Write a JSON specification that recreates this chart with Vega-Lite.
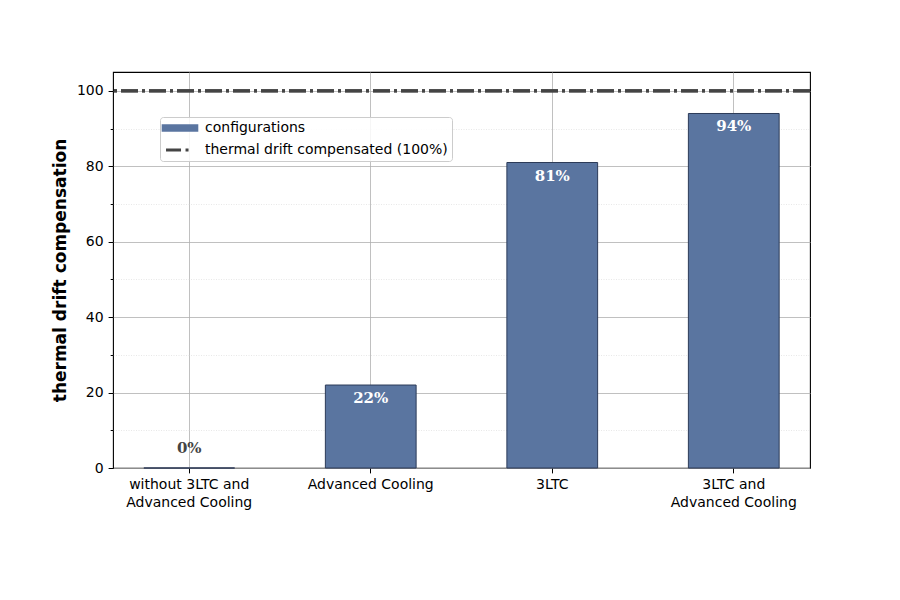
{
  "$schema": "https://vega.github.io/schema/vega-lite/v6.json",
  "width": 697,
  "height": 396,
  "autosize": "none",
  "padding": {"left": 113, "top": 72, "right": 90, "bottom": 132},
  "background": "white",
  "data": {
    "values": [
      {"config": "without 3LTC and Advanced Cooling", "value": 0, "label": "0%"},
      {"config": "Advanced Cooling", "value": 22, "label": "22%"},
      {"config": "3LTC", "value": 81, "label": "81%"},
      {"config": "3LTC and Advanced Cooling", "value": 94, "label": "94%"}
    ]
  },
  "layer": [
    {
      "mark": {"type": "bar", "stroke": "#2c3b58", "strokeWidth": 1, "opacity": 1},
      "encoding": {
        "x": {
          "field": "config",
          "type": "nominal",
          "sort": null,
          "scale": {"paddingInner": 0.5, "paddingOuter": 0.17},
          "axis": {
            "title": null,
            "labelAngle": 0,
            "grid": true,
            "bandPosition": 0.5,
            "gridColor": "#b0b0b0",
            "gridWidth": 0.8,
            "domain": false,
            "tickColor": "black",
            "tickSize": 4.9,
            "labelPadding": 4.9,
            "labelFontSize": 14,
            "labelColor": "black",
            "labelLineHeight": 18,
            "labelExpr": "datum.value == 'without 3LTC and Advanced Cooling' ? ['without 3LTC and', 'Advanced Cooling'] : datum.value == '3LTC and Advanced Cooling' ? ['3LTC and', 'Advanced Cooling'] : datum.value"
          }
        },
        "y": {
          "field": "value",
          "type": "quantitative",
          "scale": {"domain": [0, 105], "nice": false, "zero": true},
          "axis": {
            "title": "thermal drift compensation",
            "titleFontSize": 17,
            "titleFontWeight": "bold",
            "titleColor": "black",
            "titleX": -53,
            "titleY": 198,
            "titleAngle": 270,
            "titleAlign": "center",
            "titleBaseline": "middle",
            "values": [0, 20, 40, 60, 80, 100],
            "grid": true,
            "gridColor": "#b0b0b0",
            "gridWidth": 0.8,
            "domain": false,
            "tickColor": "black",
            "tickSize": 4.9,
            "labelPadding": 4.9,
            "labelFontSize": 14,
            "labelColor": "black"
          }
        },
        "color": {
          "datum": "configurations",
          "type": "nominal",
          "scale": {
            "domain": ["configurations", "thermal drift compensated (100%)"],
            "range": ["#5a75a0", "#444444"]
          },
          "legend": {
            "title": null,
            "orient": "none",
            "legendX": 47,
            "legendY": 45,
            "padding": 4,
            "fillColor": "rgba(255,255,255,0.85)",
            "strokeColor": "#cccccc",
            "cornerRadius": 3,
            "labelFontSize": 14,
            "labelColor": "black",
            "labelOffset": 27,
            "rowPadding": 8,
            "symbolSize": 196,
            "labelLimit": 400,
            "encode": {
              "symbols": {
                "update": {
                  "shape": {"signal": "datum.value === 'configurations' ? 'M-1.33,-0.52H3.9V0.52H-1.33Z' : 'M-0.71,0H2.71'"},
                  "fill": {"signal": "datum.value === 'configurations' ? '#5a75a0' : 'transparent'"},
                  "stroke": {"signal": "datum.value === 'configurations' ? 'transparent' : '#444444'"},
                  "strokeWidth": {"signal": "datum.value === 'configurations' ? 0 : 2.8"},
                  "strokeDash": {"signal": "datum.value === 'configurations' ? [1, 0] : [15, 4.5, 3, 4]"},
                  "size": {"value": 196},
                  "opacity": {"value": 1}
                }
              }
            }
          }
        }
      }
    },
    {
      "transform": [{"filter": "datum.value > 0"}],
      "mark": {"type": "text", "font": "DejaVu Serif", "fontWeight": "bold", "fontSize": 15, "fill": "white", "baseline": "middle", "dy": 13},
      "encoding": {
        "x": {"field": "config", "type": "nominal", "sort": null},
        "y": {"field": "value", "type": "quantitative", "axis": null},
        "text": {"field": "label"}
      }
    },
    {
      "transform": [{"filter": "datum.value == 0"}],
      "mark": {"type": "text", "font": "DejaVu Serif", "fontWeight": "bold", "fontSize": 15, "fill": "#444444", "baseline": "middle", "dy": -20},
      "encoding": {
        "x": {"field": "config", "type": "nominal", "sort": null},
        "y": {"field": "value", "type": "quantitative", "axis": null},
        "text": {"field": "label"}
      }
    },
    {
      "mark": {"type": "rule", "strokeWidth": 2.8, "strokeDash": [17, 4, 3, 4]},
      "encoding": {
        "y": {
          "datum": 100,
          "type": "quantitative",
          "axis": {
            "orient": "left",
            "title": null,
            "values": [10, 30, 50, 70, 90],
            "labels": false,
            "domain": false,
            "tickColor": "black",
            "tickSize": 2.8,
            "grid": true,
            "gridColor": "#d8d8d8",
            "gridWidth": 0.6,
            "gridDash": [1, 1.5]
          }
        },
        "color": {
          "datum": "thermal drift compensated (100%)",
          "type": "nominal",
          "legend": {
            "title": null,
            "orient": "none",
            "legendX": 47,
            "legendY": 45,
            "padding": 4,
            "fillColor": "rgba(255,255,255,0.85)",
            "strokeColor": "#cccccc",
            "cornerRadius": 3,
            "labelFontSize": 14,
            "labelColor": "black",
            "labelOffset": 27,
            "rowPadding": 8,
            "symbolSize": 196,
            "labelLimit": 400,
            "encode": {
              "symbols": {
                "update": {
                  "shape": {"signal": "datum.value === 'configurations' ? 'M-1.33,-0.52H3.9V0.52H-1.33Z' : 'M-0.71,0H2.71'"},
                  "fill": {"signal": "datum.value === 'configurations' ? '#5a75a0' : 'transparent'"},
                  "stroke": {"signal": "datum.value === 'configurations' ? 'transparent' : '#444444'"},
                  "strokeWidth": {"signal": "datum.value === 'configurations' ? 0 : 2.8"},
                  "strokeDash": {"signal": "datum.value === 'configurations' ? [1, 0] : [15, 4.5, 3, 4]"},
                  "size": {"value": 196},
                  "opacity": {"value": 1}
                }
              }
            }
          }
        }
      }
    }
  ],
  "resolve": {"axis": {"y": "independent"}, "scale": {"y": "shared"}},
  "config": {
    "font": "DejaVu Sans",
    "axis": {"labelFont": "DejaVu Sans", "titleFont": "DejaVu Sans"},
    "legend": {"labelFont": "DejaVu Sans"},
    "view": {"stroke": "black", "strokeWidth": 1.1}
  }
}
